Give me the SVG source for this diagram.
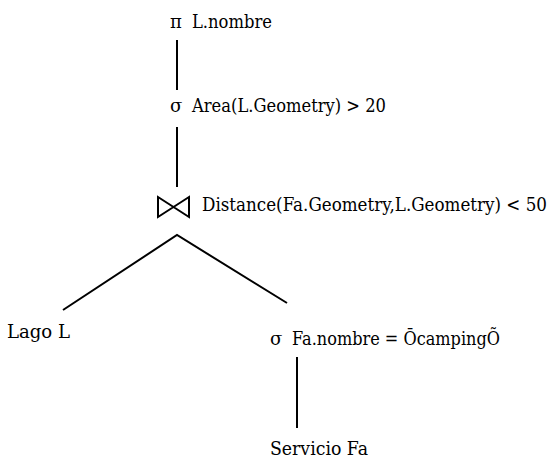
<svg xmlns="http://www.w3.org/2000/svg" width="556" height="460" viewBox="0 0 556 460">
<style>
.e{stroke:#000;stroke-width:2;fill:none}
</style>
<rect width="556" height="460" fill="#fff"/>
<g id="connectors">
<line class="e" x1="177" y1="40" x2="177" y2="90"/>
<line class="e" x1="177" y1="127" x2="177" y2="187"/>
<polyline class="e" points="63,310 177,235 287,303"/>
<line class="e" x1="297" y1="357" x2="297" y2="428"/>
</g>
<g font-family="'DejaVu Serif', 'Liberation Serif', serif" font-size="18" fill="#000">
<g id="proj"><text x="170" y="28">π</text><text x="192" y="28" textLength="80" lengthAdjust="spacingAndGlyphs">L.nombre</text></g>
<g id="sel1"><text x="170" y="112">σ</text><text x="192" y="112" textLength="194" lengthAdjust="spacingAndGlyphs">Area(L.Geometry) &gt; 20</text></g>
<g id="join">
<path class="e" d="M158,197 V217 L189,197 V217 Z"/>
<text x="202" y="211" textLength="345" lengthAdjust="spacingAndGlyphs">Distance(Fa.Geometry,L.Geometry) &lt; 50</text>
</g>
<g id="lago"><text x="7" y="338" textLength="63" lengthAdjust="spacingAndGlyphs">Lago L</text></g>
<g id="sel2"><text x="270" y="345">σ</text><text x="292" y="345" textLength="208" lengthAdjust="spacingAndGlyphs">Fa.nombre = ŌcampingÕ</text></g>
<g id="servicio"><text x="270" y="455" textLength="98" lengthAdjust="spacingAndGlyphs">Servicio Fa</text></g>
</g>
</svg>
